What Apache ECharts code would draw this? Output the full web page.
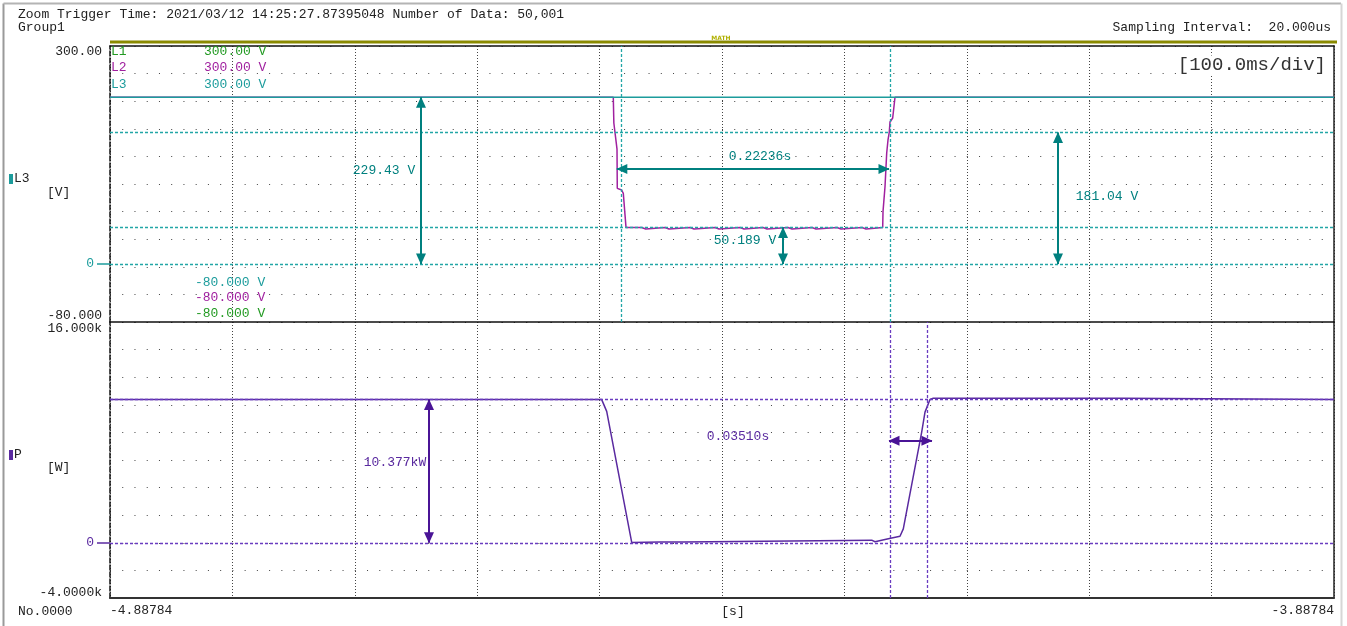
<!DOCTYPE html>
<html>
<head>
<meta charset="utf-8">
<title>Zoom Trigger - L3 / P</title>
<script src="https://cdn.jsdelivr.net/npm/echarts@6/dist/echarts.min.js"></script>
<style>
html, body { margin: 0; padding: 0; background: #fff; }
#main { width: 1347px; height: 626px; }
</style>
</head>
<body>
<div id="main"></div>
<script>
// time window [s]
var tStart = -4.88784;
var tEnd = -3.88784;

// voltage panel range [V]
var vMin = -80;
var vMax = 300;
var vTickValues = [300, 0, -80];
var vTickLabels = ['300.00', '0', '-80.000'];

// power panel range [W]
var pMin = -4000;
var pMax = 16000;
var pTickValues = [16000, 0, -4000];
var pTickLabels = ['16.000k', '0', '-4.0000k'];

// L3 stays flat
var l3Level = 229.43;

// L2 trace [s, V] (dip + return)
var l2Trace = [
  [-4.88784, 229.4], [-4.47665, 229.4], [-4.47620, 194.0], [-4.47362, 158.0],
  [-4.47340, 104.0], [-4.47256, 104.0], [-4.46979, 101.7], [-4.46848, 97.2],
  [-4.46709, 96.0], [-4.46627, 50.2],
  [-4.45344, 50.2], [-4.45344, 48.0], [-4.45014, 48.0], [-4.45014, 50.2],
  [-4.43441, 50.2], [-4.43441, 48.0], [-4.43111, 48.0], [-4.43111, 50.2],
  [-4.41398, 50.2], [-4.41398, 48.0], [-4.41068, 48.0], [-4.41068, 50.2],
  [-4.39356, 50.2], [-4.39356, 48.0], [-4.39026, 48.0], [-4.39026, 50.2],
  [-4.37313, 50.2], [-4.37313, 48.0], [-4.36983, 48.0], [-4.36983, 50.2],
  [-4.35434, 50.2], [-4.35434, 48.0], [-4.35104, 48.0], [-4.35104, 50.2],
  [-4.33392, 50.2], [-4.33392, 48.0], [-4.33062, 48.0], [-4.33062, 50.2],
  [-4.31431, 50.2], [-4.31431, 48.0], [-4.31101, 48.0], [-4.31101, 50.2],
  [-4.29389, 50.2], [-4.29389, 48.0], [-4.29059, 48.0], [-4.29059, 50.2],
  [-4.27346, 50.2], [-4.27346, 48.0], [-4.27016, 48.0], [-4.27016, 50.2],
  [-4.25655, 50.2], [-4.25630, 71.9], [-4.25467, 106.3], [-4.25328, 152.7],
  [-4.25222, 170.6], [-4.25116, 181.6], [-4.25059, 195.4], [-4.24838, 200.9],
  [-4.24650, 229.4], [-3.88784, 229.4]
];

// P trace [s, W]
var pTrace = [
  [-4.88784, 10377], [-4.48612, 10377], [-4.48204, 9522], [-4.46161, 30],
  [-4.43849, 50], [-4.41946, 60], [-4.41807, 190], [-4.26554, 190],
  [-4.26284, 80], [-4.25197, 300], [-4.24242, 470], [-4.23972, 1010],
  [-4.22469, 8020], [-4.22199, 9470], [-4.21791, 10384], [-4.21521, 10480],
  [-4.06023, 10480], [-4.06023, 10377], [-3.88784, 10377]
];

// cursors
var vCursorTimes = [-4.47376, -4.25140];
var vCursorLevels = [181.04, 50.189, 0];
var pCursorTimes = [-4.25140, -4.21630];
var pCursorLevels = [10377, 0];

// measurement arrows and their readouts
var vArrows = [
  { from: [-4.63376, 229.43], to: [-4.63376, 0], text: '229.43 V', at: [-4.66398, 127.9] },
  { from: [-4.47376, 130.7], to: [-4.25140, 130.7], text: '0.22236s', at: [-4.35679, 147.2] },
  { from: [-4.33800, 50.189], to: [-4.33800, 0], text: '50.189 V', at: [-4.36905, 31.5] },
  { from: [-4.11333, 181.04], to: [-4.11333, 0], text: '181.04 V', at: [-4.07330, 92.1] }
];
var pArrows = [
  { from: [-4.62722, 10377], to: [-4.62722, 0], text: '10.377kW', at: [-4.65500, 5797] },
  { from: [-4.25140, 7391], to: [-4.21630, 7391], text: '0.03510s', at: [-4.37477, 7681] }
];

var TEAL = '#1c9c9c', TEAL_CUR = '#22a6a6', TEAL_DK = '#00807f', MAG = '#a0209f', GREEN = '#229a22';
var PURP = '#5a2aa0', PURP_CUR = '#6a3cc0', PURP_DK = '#4a1496';
var MONO = '"Liberation Mono", "DejaVu Sans Mono", monospace';

function cursorLines(times, levels, color) {
  var style = { color: color, type: [3, 2], width: 1.3 };
  var out = [];
  times.forEach(function (t) { out.push({ xAxis: t, symbol: 'none', lineStyle: style }); });
  levels.forEach(function (v) { out.push({ yAxis: v, symbol: 'none', lineStyle: style }); });
  return out;
}
function arrowLines(list, color) {
  return list.map(function (a) {
    var end = { symbol: 'triangle', symbolSize: [10, 11], symbolOffset: [0, 5], itemStyle: { color: color } };
    return [
      Object.assign({ coord: a.from, lineStyle: { color: color, width: 2, type: 'solid' } }, end),
      Object.assign({ coord: a.to }, end)
    ];
  });
}
function readouts(list) {
  return list.map(function (a) { return { name: a.text, coord: a.at }; });
}
function tickLabel(values, labels, zeroStyle) {
  return function (v) {
    var i = values.indexOf(v);
    if (i < 0) return '';
    var key = i === 0 ? 'hi' : (i === 1 ? zeroStyle : 'lo');
    return '{' + key + '|' + labels[i] + '}';
  };
}

function helperX(grid) {
  return {
    gridIndex: grid, type: 'value', min: 0, max: 10, interval: 1, position: 'top',
    axisLine: { show: true, onZero: false, lineStyle: { color: '#111', width: 1.5 } },
    axisTick: { show: false }, axisLabel: { show: false },
    splitLine: { show: true, lineStyle: { color: '#444', type: [1, 2], width: 1 } }
  };
}
function helperY(grid) {
  return {
    gridIndex: grid, type: 'value', min: 0, max: 10, interval: 1, position: 'right',
    axisLine: { show: true, onZero: false, lineStyle: { color: '#222', width: 1.5 } },
    axisTick: { show: false }, axisLabel: { show: false },
    splitLine: { show: true, lineStyle: { color: '#444', type: [1, 11.24], width: 1 } }
  };
}

var chart = echarts.init(document.getElementById('main'));
chart.setOption({
  animation: false,
  backgroundColor: '#fff',
  grid: [
    { left: 110, top: 46, width: 1224, height: 276, outerBoundsMode: 'none' },
    { left: 110, top: 322, width: 1224, height: 276, outerBoundsMode: 'none' }
  ],
  xAxis: [
    {
      gridIndex: 0, type: 'value', min: tStart, max: tEnd, position: 'bottom',
      axisLine: { show: false, onZero: false }, axisTick: { show: false }, axisLabel: { show: false },
      splitLine: { show: false }
    },
    helperX(0),
    {
      gridIndex: 1, type: 'value', min: tStart, max: tEnd, position: 'bottom',
      axisLine: { show: true, onZero: false, lineStyle: { color: '#333', width: 2 } },
      axisTick: { show: false },
      splitLine: { show: false },
      axisLabel: {
        customValues: [tStart, tEnd], margin: 6,
        alignMinLabel: 'left', alignMaxLabel: 'right',
        color: '#222', fontFamily: MONO, fontSize: 13,
        formatter: function (v) { return v.toFixed(5); }
      },
      name: '[s]', nameLocation: 'middle', nameGap: 7, nameMoveOverlap: false,
      nameTextStyle: { color: '#222', fontFamily: MONO, fontSize: 13, verticalAlign: 'top', padding: [0, 0, 0, 22] }
    },
    helperX(1)
  ],
  yAxis: [
    {
      gridIndex: 0, type: 'value', min: vMin, max: vMax, position: 'left',
      axisLine: { show: true, onZero: false, lineStyle: { color: '#111', type: [5, 2], width: 1.5 } },
      axisTick: { show: true, customValues: [0], length: 13, lineStyle: { color: TEAL, width: 1.5 } },
      splitLine: { show: false },
      axisLabel: {
        customValues: vTickValues, margin: 8, fontFamily: MONO, fontSize: 13, color: '#222',
        formatter: tickLabel(vTickValues, vTickLabels, 'zv'),
        rich: {
          hi: { padding: [12, 0, 0, 0], fontFamily: MONO, fontSize: 13, color: '#222' },
          lo: { padding: [0, 0, 12, 0], fontFamily: MONO, fontSize: 13, color: '#222' },
          zv: { padding: [0, 8, 0, 0], fontFamily: MONO, fontSize: 13, color: TEAL }
        }
      }
    },
    helperY(0),
    {
      gridIndex: 1, type: 'value', min: pMin, max: pMax, position: 'left',
      axisLine: { show: true, onZero: false, lineStyle: { color: '#111', type: [5, 2], width: 1.5 } },
      axisTick: { show: true, customValues: [0], length: 13, lineStyle: { color: PURP, width: 1.5 } },
      splitLine: { show: false },
      axisLabel: {
        customValues: pTickValues, margin: 8, fontFamily: MONO, fontSize: 13, color: '#222',
        formatter: tickLabel(pTickValues, pTickLabels, 'zp'),
        rich: {
          hi: { padding: [14, 0, 0, 0], fontFamily: MONO, fontSize: 13, color: '#222' },
          lo: { padding: [0, 0, 10, 0], fontFamily: MONO, fontSize: 13, color: '#222' },
          zp: { padding: [0, 8, 0, 0], fontFamily: MONO, fontSize: 13, color: PURP }
        }
      }
    },
    helperY(1)
  ],
  series: [
    {
      name: 'L2', type: 'line', xAxisIndex: 0, yAxisIndex: 0, data: l2Trace, color: MAG,
      symbol: 'none', lineStyle: { color: MAG, width: 1.5 }, z: 2,
      markPoint: {
        silent: true, symbol: 'circle', symbolSize: 0,
        label: { show: true, position: 'inside', formatter: '{b}', color: TEAL_DK, fontFamily: MONO, fontSize: 13 },
        data: readouts(vArrows)
      }
    },
    {
      name: 'L3', type: 'line', xAxisIndex: 0, yAxisIndex: 0, color: TEAL,
      data: [[tStart, l3Level], [tEnd, l3Level]],
      symbol: 'none', lineStyle: { color: TEAL, width: 1.5 }, z: 3,
      markLine: {
        silent: true, symbol: 'none', animation: false,
        label: { show: false },
        itemStyle: { color: TEAL_CUR },
        lineStyle: { color: TEAL_CUR, type: [3, 2], width: 1.3 },
        data: cursorLines(vCursorTimes, vCursorLevels, TEAL_CUR).concat(arrowLines(vArrows, TEAL_DK))
      }
    },
    {
      name: 'P', type: 'line', xAxisIndex: 2, yAxisIndex: 2, data: pTrace, color: PURP,
      symbol: 'none', lineStyle: { color: PURP, width: 1.5 }, z: 3,
      markLine: {
        silent: true, symbol: 'none', animation: false,
        label: { show: false },
        itemStyle: { color: PURP_CUR },
        lineStyle: { color: PURP_CUR, type: [3, 2], width: 1.3 },
        data: cursorLines(pCursorTimes, pCursorLevels, PURP_CUR).concat(arrowLines(pArrows, PURP_DK))
      },
      markPoint: {
        silent: true, symbol: 'circle', symbolSize: 0,
        label: { show: true, position: 'inside', formatter: '{b}', color: PURP, fontFamily: MONO, fontSize: 13 },
        data: readouts(pArrows)
      }
    }
  ],
  graphic: { elements: [
    // window frame
    { type: 'line', shape: { x1: 3.5, y1: 3.5, x2: 3.5, y2: 626 }, style: { stroke: '#9a9a9a', lineWidth: 2 } },
    { type: 'line', shape: { x1: 3.5, y1: 3.5, x2: 1341, y2: 3.5 }, style: { stroke: '#b4b4b4', lineWidth: 2 } },
    { type: 'line', shape: { x1: 1341.5, y1: 3.5, x2: 1341.5, y2: 626 }, style: { stroke: '#d6d6d6', lineWidth: 2 } },
    // header
    { type: 'text', x: 18, y: 15, style: { text: 'Zoom Trigger Time: 2021/03/12 14:25:27.87395048 Number of Data: 50,001', font: '13px ' + MONO, fill: '#222', verticalAlign: 'middle' } },
    { type: 'text', x: 18, y: 28, style: { text: 'Group1', font: '13px ' + MONO, fill: '#222', verticalAlign: 'middle' } },
    { type: 'text', x: 1331, y: 28, style: { text: 'Sampling Interval:  20.000us', font: '13px ' + MONO, fill: '#222', align: 'right', verticalAlign: 'middle' } },
    { type: 'rect', shape: { x: 110, y: 40.5, width: 1227, height: 3 }, style: { fill: '#8a8a00' } },
    { type: 'text', x: 721, y: 38, style: { text: 'MATH', font: 'bold 6px "DejaVu Sans"', fill: '#b0b000', align: 'center', verticalAlign: 'middle' } },
    { type: 'text', x: 1326, y: 65, z: 10, style: { text: '[100.0ms/div]', font: '19px ' + MONO, fill: '#333', align: 'right', verticalAlign: 'middle', backgroundColor: '#fff' } },
    // channel names
    { type: 'rect', shape: { x: 9, y: 174, width: 4, height: 10 }, style: { fill: TEAL } },
    { type: 'text', x: 14, y: 179, style: { text: 'L3', font: '13px ' + MONO, fill: '#222', verticalAlign: 'middle' } },
    { type: 'text', x: 47, y: 193, style: { text: '[V]', font: '13px ' + MONO, fill: '#222', verticalAlign: 'middle' } },
    { type: 'rect', shape: { x: 9, y: 450, width: 4, height: 10 }, style: { fill: PURP } },
    { type: 'text', x: 14, y: 455, style: { text: 'P', font: '13px ' + MONO, fill: '#222', verticalAlign: 'middle' } },
    { type: 'text', x: 47, y: 468, style: { text: '[W]', font: '13px ' + MONO, fill: '#222', verticalAlign: 'middle' } },
    // channel legend
    { type: 'text', x: 111, y: 52, z: 10, style: { text: 'L1', font: '13px ' + MONO, fill: GREEN, verticalAlign: 'middle' } },
    { type: 'text', x: 111, y: 68, z: 10, style: { text: 'L2', font: '13px ' + MONO, fill: MAG, verticalAlign: 'middle' } },
    { type: 'text', x: 111, y: 85, z: 10, style: { text: 'L3', font: '13px ' + MONO, fill: TEAL, verticalAlign: 'middle' } },
    { type: 'text', x: 204, y: 52, z: 10, style: { text: '300.00 V', font: '13px ' + MONO, fill: GREEN, verticalAlign: 'middle' } },
    { type: 'text', x: 204, y: 68, z: 10, style: { text: '300.00 V', font: '13px ' + MONO, fill: MAG, verticalAlign: 'middle' } },
    { type: 'text', x: 204, y: 85, z: 10, style: { text: '300.00 V', font: '13px ' + MONO, fill: TEAL, verticalAlign: 'middle' } },
    { type: 'text', x: 195, y: 283, z: 10, style: { text: '-80.000 V', font: '13px ' + MONO, fill: TEAL, verticalAlign: 'middle' } },
    { type: 'text', x: 195, y: 298, z: 10, style: { text: '-80.000 V', font: '13px ' + MONO, fill: MAG, verticalAlign: 'middle' } },
    { type: 'text', x: 195, y: 314, z: 10, style: { text: '-80.000 V', font: '13px ' + MONO, fill: GREEN, verticalAlign: 'middle' } },
    // footer
    { type: 'text', x: 18, y: 612, style: { text: 'No.0000', font: '13px ' + MONO, fill: '#222', verticalAlign: 'middle' } }
  ] }
});
</script>
</body>
</html>
